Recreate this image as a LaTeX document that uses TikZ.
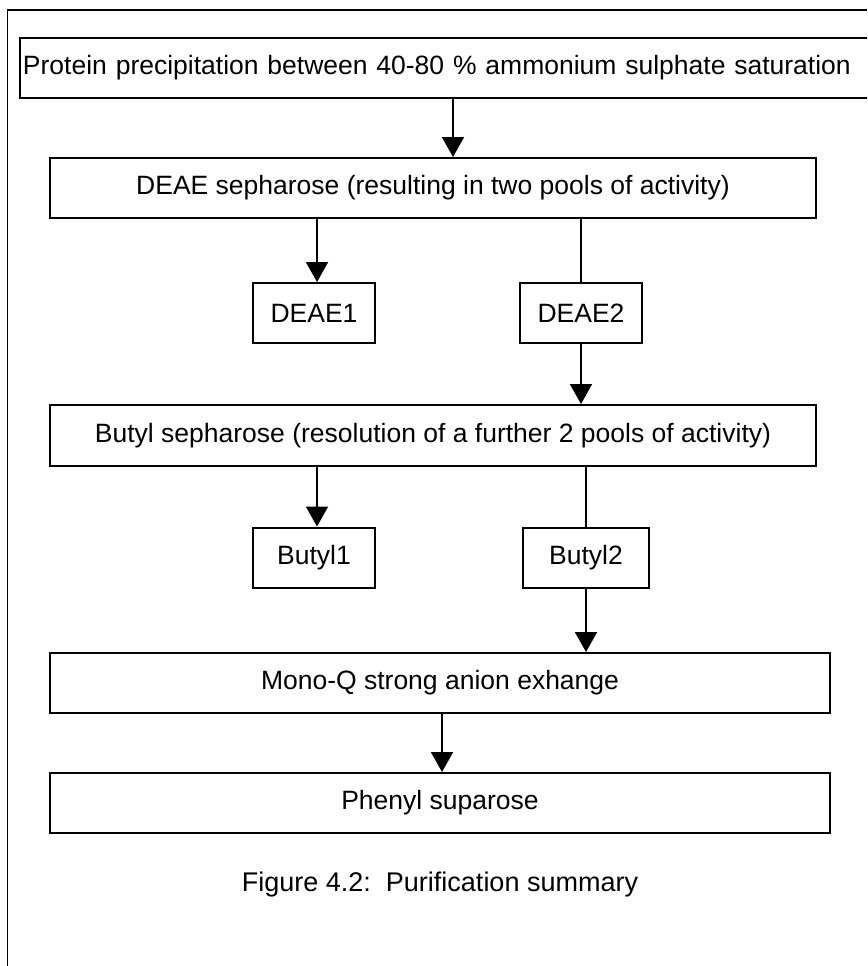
\documentclass[tikz,border=0pt]{standalone}
\usepackage{fontspec}
\setmainfont{Liberation Sans}
\usetikzlibrary{arrows.meta}

\begin{document}
\begin{tikzpicture}[x=1pt, y=-1pt,
  stage/.style={draw, line width=2pt, inner sep=0pt, minimum height=60pt, font=\fontsize{26.5}{30}\selectfont},
  pool/.style={stage, minimum width=122pt},
  flow/.style={line width=2pt, -{Triangle[width=22pt, length=20pt]}},
  link/.style={line width=2pt}]
  \clip (0,0) rectangle (867,966);
  % frame of the page
  \draw[line width=1.5pt] (7.5,966) -- (7.5,10) -- (867,10);

  \node[stage, anchor=west, inner xsep=3pt, text width=855pt, align=left] (precip) at (19,68)
    {Protein precipitation between 40-80 \% ammonium sulphate saturation};
  \node[stage, minimum width=766pt] (deae) at (433,188) {DEAE sepharose (resulting in two pools of activity)};
  \node[pool] (deae1) at (314,313) {DEAE1};
  \node[pool] (deae2) at (581,313) {DEAE2};
  \node[stage, minimum width=766pt, minimum height=61pt] (butyl) at (433,435.5) {Butyl sepharose (resolution of a further 2 pools of activity)};
  \node[pool] (butyl1) at (314,557.5) {Butyl1};
  \node[pool, minimum width=126pt] (butyl2) at (586,557.5) {Butyl2};
  \node[stage, minimum width=780pt] (monoq) at (440,683) {Mono-Q strong anion exhange};
  \node[stage, minimum width=780pt] (phenyl) at (440,803) {Phenyl suparose};
  \node[font=\fontsize{27}{30}\selectfont] (caption) at (440,885) {Figure 4.2:\ \ Purification summary};

  \draw[flow] ([xshift=20pt]deae.north |- precip.south) -- ([xshift=20pt]deae.north);
  \draw[flow] ([xshift=3pt]deae1.north |- deae.south) -- ([xshift=3pt]deae1.north);
  \draw[link] (deae2.north |- deae.south) -- (deae2.north);
  \draw[flow] (deae2.south) -- (deae2.south |- butyl.north);
  \draw[flow] ([xshift=3pt]butyl1.north |- butyl.south) -- ([xshift=3pt]butyl1.north);
  \draw[link] (butyl2.north |- butyl.south) -- (butyl2.north);
  \draw[flow] (butyl2.south) -- (butyl2.south |- monoq.north);
  \draw[flow] ([xshift=2pt]monoq.south) -- ([xshift=2pt]phenyl.north);
\end{tikzpicture}
\end{document}
